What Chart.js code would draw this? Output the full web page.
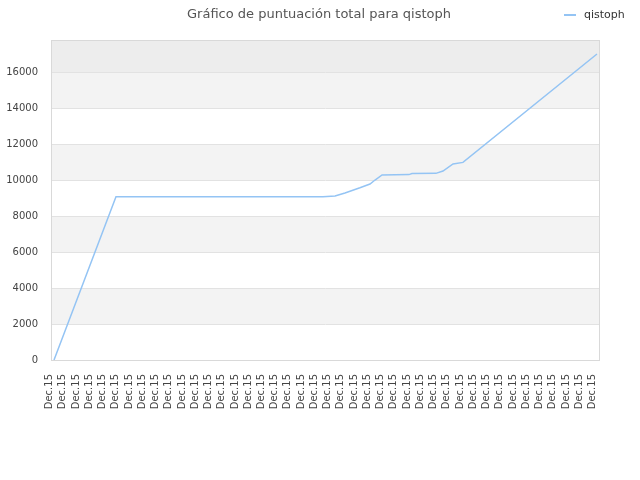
<!DOCTYPE html>
<html>
<head>
<meta charset="utf-8">
<title>Gráfico de puntuación total para qistoph</title>
<script src="https://cdn.jsdelivr.net/npm/chart.js@4/dist/chart.umd.min.js"></script>
<style>
    body { margin: 0; background: #fff; }
    #scoreChart { display: block; }
</style>
</head>
<body>
<canvas id="scoreChart" width="640" height="480"></canvas>
<script>
// tick labels along the bottom, one per slot
const xLabels = [
    'Dec.15', 'Dec.15', 'Dec.15', 'Dec.15', 'Dec.15', 'Dec.15', 'Dec.15',
    'Dec.15', 'Dec.15', 'Dec.15', 'Dec.15', 'Dec.15', 'Dec.15', 'Dec.15',
    'Dec.15', 'Dec.15', 'Dec.15', 'Dec.15', 'Dec.15', 'Dec.15', 'Dec.15',
    'Dec.15', 'Dec.15', 'Dec.15', 'Dec.15', 'Dec.15', 'Dec.15', 'Dec.15',
    'Dec.15', 'Dec.15', 'Dec.15', 'Dec.15', 'Dec.15', 'Dec.15', 'Dec.15',
    'Dec.15', 'Dec.15', 'Dec.15', 'Dec.15', 'Dec.15', 'Dec.15', 'Dec.15'
];

// where each score change falls, in label slots
const scorePos = [0, 4.68, 20.31, 21.22, 21.97, 23.10, 23.86, 24.24, 24.77,
    26.80, 27.03, 28.84, 29.37, 30.13, 30.88, 41];

// total score at those points
const scoreTotal = [0, 9070, 9070, 9110, 9280, 9570, 9780, 10000, 10280,
    10300, 10360, 10370, 10500, 10890, 10980, 17000];

const yTicks = [0, 2000, 4000, 6000, 8000, 10000, 12000, 14000, 16000];
const yTop = 17780;

const seriesName = 'qistoph';
const chartTitle = 'Gráfico de puntuación total para qistoph';

document.addEventListener('DOMContentLoaded', () => {
    const lineColor = '#94c4f4';
    const font = 'DejaVu Sans';

    /**
     * Grey bands behind the plot, every other 2000 step, plus the top strip.
     * Also draws the thin frame round the plot area.
     */
    const bandsPlugin = {
        id: 'bands',
        beforeDraw(chart) {
            const { ctx, chartArea: a, scales: { y } } = chart;
            ctx.save();
            for (let i = 0; i < yTicks.length; i++) {
                const lo = yTicks[i];
                const hi = i + 1 < yTicks.length ? yTicks[i + 1] : yTop;
                let fill = null;
                if (i === yTicks.length - 1) fill = '#ededed';
                else if (i % 2 === 1) fill = '#f3f3f3';
                if (!fill) continue;
                const top = y.getPixelForValue(hi);
                const bot = y.getPixelForValue(lo);
                ctx.fillStyle = fill;
                ctx.fillRect(a.left, top, a.right - a.left, bot - top);
            }
            ctx.restore();
        },
        afterDatasetsDraw(chart) {
            const { ctx, chartArea: a } = chart;
            ctx.save();
            ctx.strokeStyle = '#d9d9d9';
            ctx.lineWidth = 1;
            ctx.strokeRect(Math.round(a.left) + 0.5, Math.round(a.top) + 0.5,
                Math.round(a.right - a.left) - 1, Math.round(a.bottom - a.top));
            ctx.restore();
        }
    };

    /**
     * Title and legend share the top row, so they are drawn here.
     */
    const headerPlugin = {
        id: 'header',
        afterDraw(chart) {
            const { ctx } = chart;
            ctx.save();
            ctx.fillStyle = '#555';
            ctx.font = '13px "' + font + '"';
            ctx.textAlign = 'center';
            ctx.textBaseline = 'alphabetic';
            ctx.fillText(chartTitle, 319, 18);

            ctx.strokeStyle = lineColor;
            ctx.lineWidth = 2;
            ctx.beginPath();
            ctx.moveTo(564, 15);
            ctx.lineTo(576, 15);
            ctx.stroke();

            ctx.fillStyle = '#333';
            ctx.font = '11px "' + font + '"';
            ctx.textAlign = 'left';
            ctx.fillText(seriesName, 584, 18);
            ctx.restore();
        }
    };

    const ctx = document.getElementById('scoreChart').getContext('2d');
    const scoreChart = new Chart(ctx, {
        type: 'line',
        data: {
            datasets: [{
                label: seriesName,
                data: scorePos.map((p, i) => ({ x: p, y: scoreTotal[i] })),
                borderColor: lineColor,
                borderWidth: 1.5,
                pointRadius: 0,
                tension: 0,
                fill: false
            }]
        },
        options: {
            responsive: false,
            animation: false,
            layout: { padding: { top: 40, right: 40, left: 0, bottom: 0 } },
            plugins: {
                legend: { display: false },
                title: { display: false },
                tooltip: { enabled: false }
            },
            scales: {
                x: {
                    type: 'linear',
                    min: -0.227,
                    max: 41.227,
                    grid: { display: false },
                    border: { display: false },
                    // labels sit a little left of their slot, as in the original
                    afterBuildTicks: (scale) => {
                        scale.ticks = xLabels.map((l, i) => ({ value: i - 0.34 }));
                    },
                    afterFit: (scale) => { scale.height = 120; },
                    ticks: {
                        autoSkip: false,
                        minRotation: 90,
                        maxRotation: 90,
                        padding: 6,
                        color: '#444',
                        font: { family: font, size: 10 },
                        callback: (v, i) => xLabels[i]
                    }
                },
                y: {
                    min: 0,
                    max: yTop,
                    grid: { color: '#e2e2e2', drawTicks: false },
                    border: { display: false },
                    afterBuildTicks: (scale) => {
                        scale.ticks = yTicks.map((v) => ({ value: v }));
                    },
                    afterFit: (scale) => { scale.width = 51; },
                    ticks: {
                        padding: 13,
                        color: '#444',
                        font: { family: font, size: 10 },
                        callback: (v) => String(v)
                    }
                }
            }
        },
        plugins: [bandsPlugin, headerPlugin]
    });
});
</script>
</body>
</html>
